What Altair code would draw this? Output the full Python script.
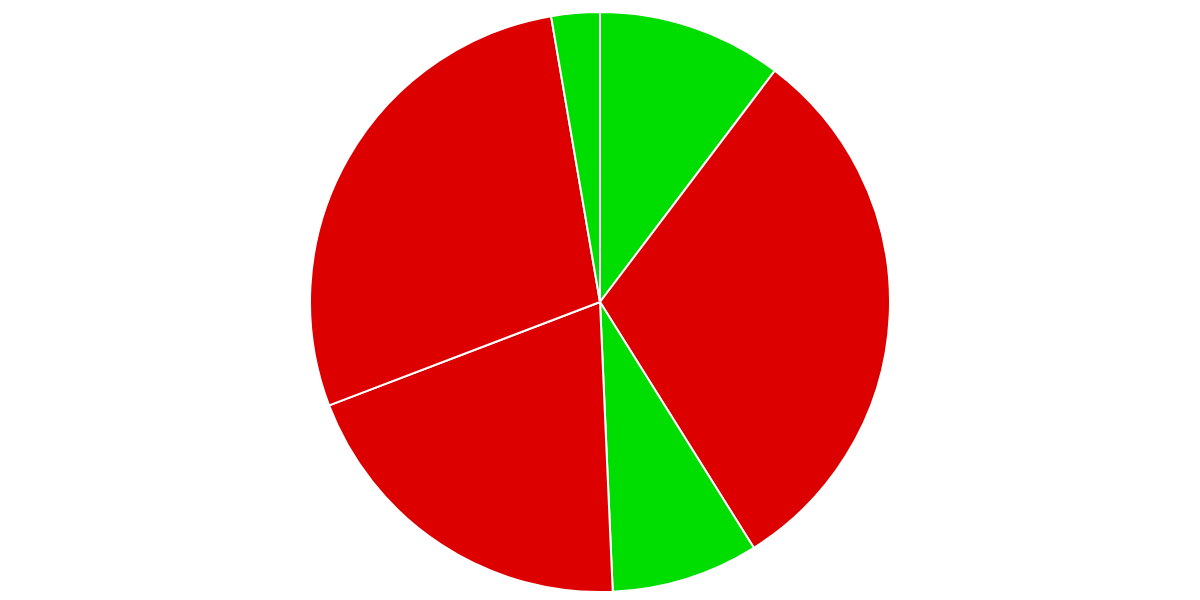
import altair as alt
import pandas as pd

labels = ["A", "B", "C", "D", "E", "F"]
values = [10.3, 30.8, 8.2, 19.9, 28.1, 2.7]
status = ["up", "down", "up", "down", "down", "up"]

df = pd.DataFrame({"label": labels, "value": values, "status": status, "order": list(range(len(labels)))})

chart = alt.Chart(df).mark_arc(outerRadius=290, stroke="white", strokeWidth=2).encode(
    theta=alt.Theta("value:Q", stack=True),
    order=alt.Order("order:Q"),
    x=alt.value(592),
    y=alt.value(288),
    color=alt.Color("status:N", scale=alt.Scale(domain=["up", "down"], range=["#00DD00", "#DD0000"]), legend=None),
).properties(
    width=1184, height=580, padding=0
).configure_view(stroke=None)

chart.save("out.html", embed_options={"renderer": "svg", "actions": False})
